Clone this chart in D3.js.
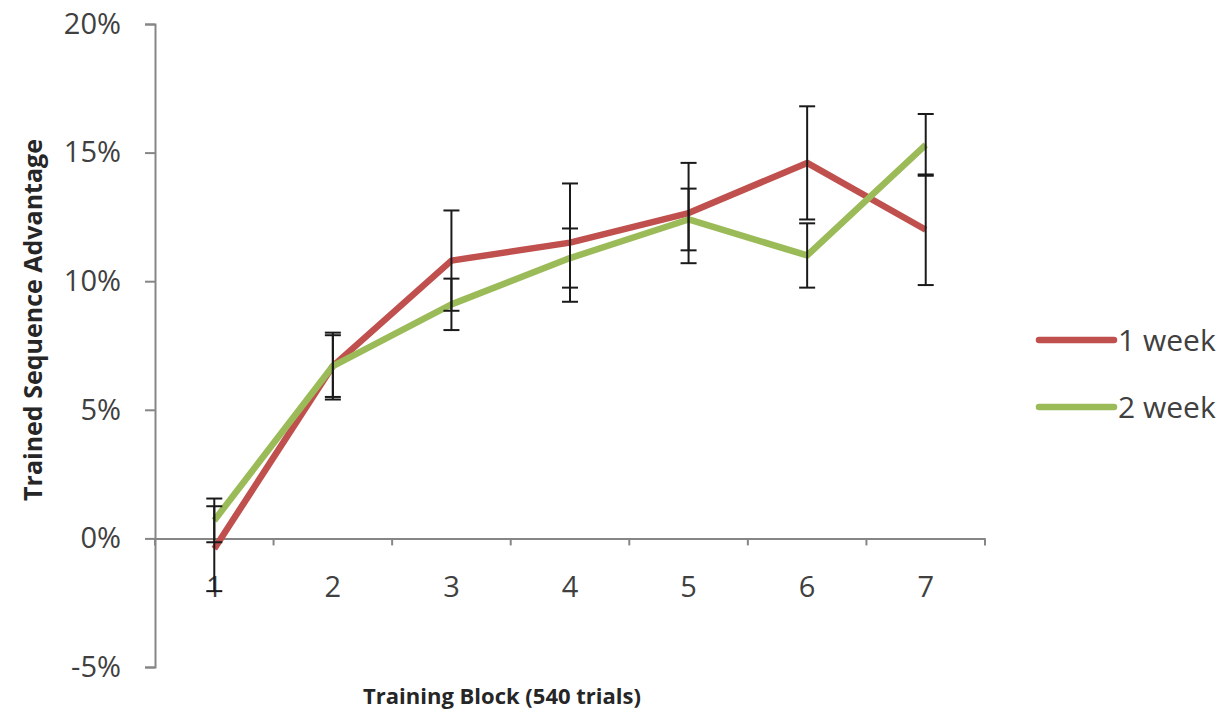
<!DOCTYPE html>
<html>
<head>
<meta charset="utf-8">
<script src="https://cdn.jsdelivr.net/npm/d3@7"></script>
<style>
  body { margin: 0; background: #fff; }
  text { font-family: "Open Sans", "Noto Sans", sans-serif; fill: #404040; }
</style>
</head>
<body>
<svg id="chart" width="1230" height="720"></svg>
<script>
// values (percent)
const blocks = ["1", "2", "3", "4", "5", "6", "7"];
const week1 = [-0.4, 6.7, 10.8, 11.5, 12.65, 14.6, 12.0];
const week1Err = [1.65, 1.3, 1.95, 2.3, 1.95, 2.2, 2.15];
const week2 = [0.7, 6.7, 9.1, 10.9, 12.4, 11.0, 15.3];
const week2Err = [0.85, 1.2, 1.0, 1.15, 1.2, 1.25, 1.2];
const yTicks = [-5, 0, 5, 10, 15, 20];
const seriesNames = ["1 week", "2 week"];
const seriesColors = ["#c0504d", "#9bbb59"];

let svg = d3.select("#chart");
let margin = {left: 155, top: 24, right: 245, bottom: 53};
let width = 1230 - margin.left - margin.right;
let height = 720 - margin.top - margin.bottom;

let xScale = d3.scaleBand()
    .domain(blocks)
    .range([margin.left, margin.left + width]);

let yScale = d3.scaleLinear()
    .domain([-5, 20])
    .range([margin.top + height, margin.top]);

// y axis
let yAxis = d3.axisLeft(yScale)
    .tickValues(yTicks)
    .tickSize(10)
    .tickPadding(24)
    .tickFormat(d => d + "%");

let yG = svg.append("g")
    .attr("transform", "translate(" + margin.left + ",0)")
    .call(yAxis);
yG.select(".domain").attr("stroke", "#868686").attr("stroke-width", 2);
yG.selectAll(".tick line").attr("stroke", "#868686").attr("stroke-width", 2);
yG.selectAll("text")
    .style("font-size", "29px")
    .style("fill", "#404040")
    .attr("font-family", null);

// x axis along 0%
let xAxis = d3.axisBottom(xScale)
    .tickSize(0)
    .tickPadding(38);

let xG = svg.append("g")
    .attr("transform", "translate(0," + yScale(0) + ")")
    .call(xAxis);
xG.select(".domain").attr("stroke", "#868686").attr("stroke-width", 2);
xG.selectAll("text")
    .style("font-size", "29px")
    .style("fill", "#404040")
    .attr("font-family", null);

// category boundary ticks
let bounds = blocks.map(b => xScale(b)).concat([xScale.range()[1]]);
svg.append("g")
    .selectAll("line")
    .data(bounds)
    .enter()
    .append("line")
    .attr("x1", d => d)
    .attr("x2", d => d)
    .attr("y1", yScale(0))
    .attr("y2", yScale(0) + 7)
    .attr("stroke", "#868686")
    .attr("stroke-width", 2);

// series
let series = [
    {name: seriesNames[0], color: seriesColors[0], values: week1, err: week1Err},
    {name: seriesNames[1], color: seriesColors[1], values: week2, err: week2Err}
];

let cx = d => xScale(d) + xScale.bandwidth() / 2;

let line = d3.line()
    .x((d, i) => cx(blocks[i]))
    .y(d => yScale(d));

series.forEach(function (s) {
    svg.append("path")
        .datum(s.values)
        .attr("d", line)
        .attr("fill", "none")
        .attr("stroke", s.color)
        .attr("stroke-width", 6.5)
        .attr("stroke-linejoin", "round");
});

// error bars
series.forEach(function (s) {
    let g = svg.append("g").attr("stroke", "#1a1a1a").attr("stroke-width", 2);
    s.values.forEach(function (v, i) {
        let x = cx(blocks[i]);
        let top = yScale(v + s.err[i]);
        let bot = yScale(v - s.err[i]);
        g.append("line").attr("x1", x).attr("x2", x).attr("y1", top).attr("y2", bot);
        g.append("line").attr("x1", x - 8).attr("x2", x + 8).attr("y1", top).attr("y2", top);
        g.append("line").attr("x1", x - 8).attr("x2", x + 8).attr("y1", bot).attr("y2", bot);
    });
});

// legend
let legend = svg.append("g");
series.forEach(function (s, i) {
    let y = 340 + i * 67;
    legend.append("line")
        .attr("x1", 1039).attr("x2", 1114)
        .attr("y1", y).attr("y2", y)
        .attr("stroke", s.color)
        .attr("stroke-width", 6.5)
        .attr("stroke-linecap", "round");
    legend.append("text")
        .attr("x", 1118)
        .attr("y", y)
        .attr("dy", "0.36em")
        .style("font-size", "30px")
        .text(s.name);
});

// axis titles
svg.append("text")
    .attr("transform", "translate(" + 42 + "," + 320 + ") rotate(-90)")
    .style("text-anchor", "middle")
    .style("font-weight", "bold")
    .style("font-size", "25px")
    .style("fill", "#262626")
    .text("Trained Sequence Advantage");

svg.append("text")
    .attr("x", 502)
    .attr("y", 704)
    .style("text-anchor", "middle")
    .style("font-weight", "bold")
    .style("font-size", "22px")
    .style("fill", "#262626")
    .text("Training Block  (540 trials)");
</script>
</body>
</html>
